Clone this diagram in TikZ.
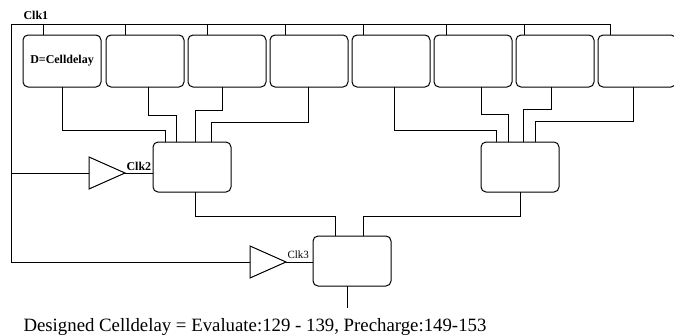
\documentclass[tikz,border=0pt]{standalone}
\usepackage{fontspec}
\setmainfont{Liberation Serif}
\usetikzlibrary{shapes.geometric}
\tikzset{
  cell/.style={draw, rounded corners=5pt, minimum width=78pt, minimum height=52pt, inner sep=0pt, outer sep=0pt, anchor=north west},
  merge/.style={draw, rounded corners=5pt, minimum width=78pt, minimum height=50pt, inner sep=0pt, outer sep=0pt, anchor=north west},
  buf/.style={draw, isosceles triangle, isosceles triangle stretches, shape border rotate=0, minimum width=32pt, minimum height=36pt, inner sep=0pt, outer sep=0pt, anchor=lower side},
  wire/.style={line width=1pt},
  lbl/.style={inner sep=0pt, font=\fontsize{12}{13}\selectfont\bfseries},
}
\begin{document}
\begin{tikzpicture}[x=1pt, y=-1pt, line width=1pt]
\useasboundingbox (0,0) rectangle (674,335);
% top cells
\node[cell] (b1) at (23,35) {\fontsize{12}{13}\selectfont\bfseries D=Celldelay};
\node[cell] (b2) at (106,35) {};
\node[cell] (b3) at (188,35) {};
\node[cell] (b4) at (270,35) {};
\node[cell] (b5) at (352,35) {};
\node[cell] (b6) at (434,35) {};
\node[cell] (b7) at (516,35) {};
\node[cell] (b8) at (598,35) {};
% merge cells
\node[merge] (m1) at (153,142) {};
\node[merge] (m2) at (481,142) {};
\node[merge] (m3) at (313,236) {};
% buffers
\node[buf] (t2) at (89,173) {};
\node[buf] (t3) at (250,262) {};
% clock lines
\coordinate (cA) at (11,24);
\coordinate (cB) at (610,24);
\coordinate (v2) at (11,173);
\coordinate (v3) at (11,262);
\draw[wire] (cB) -- (cA) -- (v3) -- (t3.lower side);
\draw[wire] (v2) -- (t2.lower side);
\draw[wire] (t2.apex) -- (t2.apex -| m1.west);
\draw[wire] (t3.apex) -- (t3.apex -| m3.west);
\foreach \b/\o in {b1/20,b2/19,b3/19,b4/15,b5/11,b6/12,b7/8,b8/12}
  \draw[wire] ([xshift=\o pt]\b.north west) -- ++(0,-11);
\node[lbl, anchor=base west] (l1) at (23,19) {Clk1};
\node[lbl, anchor=base west] (l2) at (126,170) {Clk2};
\node[lbl, anchor=base west, font=\fontsize{11}{12}\selectfont] (l3) at (287,258) {Clk3};
% group 1 outputs
\draw[wire] ([xshift=39pt]b1.south west) -- ++(0,43) -| ([xshift=12pt]m1.north west);
\draw[wire] ([xshift=42pt]b2.south west) -- ++(0,28) -| ([xshift=23pt]m1.north west);
\draw[wire] ([xshift=34pt]b3.south west) -- ++(0,23) -| ([xshift=42pt]m1.north west);
\draw[wire] ([xshift=38pt]b4.south west) -- ++(0,35) -| ([xshift=58pt]m1.north west);
% group 2 outputs
\draw[wire] ([xshift=42pt]b5.south west) -- ++(0,43) -| ([xshift=15pt]m2.north west);
\draw[wire] ([xshift=47pt]b6.south west) -- ++(0,27) -| ([xshift=27pt]m2.north west);
\draw[wire] ([xshift=35pt]b7.south west) -- ++(0,22) -| ([xshift=42pt]m2.north west);
\draw[wire] ([xshift=35pt]b8.south west) -- ++(0,34) -| ([xshift=54pt]m2.north west);
% final stage
\draw[wire] ([xshift=42pt]m1.south west) -- ++(0,24) -| ([xshift=22pt]m3.north west);
\draw[wire] ([xshift=39pt]m2.south west) -- ++(0,24) -| ([xshift=50pt]m3.north west);
\coordinate (out) at (347,308);
\draw[wire] (m3.south west -| out) -- (out);
\node[inner sep=0pt, anchor=base west, font=\fontsize{18.8}{20}\selectfont] (cap) at (23,331) {Designed Celldelay = Evaluate:129 - 139, Precharge:149-153};
\end{tikzpicture}
\end{document}
